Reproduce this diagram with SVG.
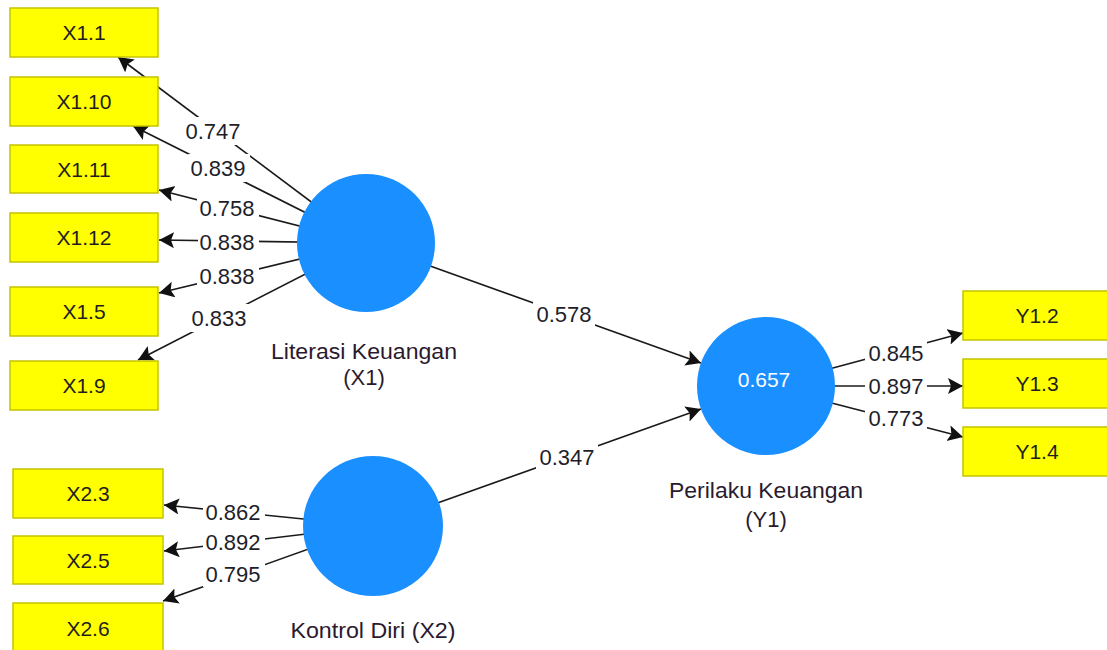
<svg xmlns="http://www.w3.org/2000/svg" width="1107" height="650" viewBox="0 0 1107 650">
<style>
.bg{fill:#ffffff}
.ind rect{fill:#ffff00;stroke:#c4c400;stroke-width:1.5}
.ind text{font-family:"Liberation Sans",Arial,sans-serif;font-size:21px;fill:#1e1e1e;text-anchor:middle}
.lat circle{fill:#1a8fff}
.name{font-family:"Liberation Sans",Arial,sans-serif;font-size:22px;fill:#2a1a2e;text-anchor:middle}
.val{font-family:"Liberation Sans",Arial,sans-serif;font-size:21px;fill:#ffffff;text-anchor:middle}
.conn line{stroke:#1a1a1a;stroke-width:1.6;marker-end:url(#ah)}
.lbl rect{fill:#ffffff}
.lbl text{font-family:"Liberation Sans",Arial,sans-serif;font-size:22px;fill:#1e1e2a;text-anchor:middle}
</style>
<defs>
<marker id="ah" markerUnits="userSpaceOnUse" markerWidth="18" markerHeight="18" refX="15" refY="8" orient="auto">
<path d="M0,0 L15,8 L0,16 L3,8 z" fill="#111"/>
</marker>
</defs>
<rect class="bg" x="0" y="0" width="1107" height="650"/>
<g id="connectors" class="conn">
<line x1="366" y1="243" x2="118" y2="57"/>
<line x1="366" y1="243" x2="133" y2="126"/>
<line x1="366" y1="243" x2="159" y2="190"/>
<line x1="366" y1="243" x2="159" y2="240"/>
<line x1="366" y1="243" x2="159" y2="293"/>
<line x1="366" y1="243" x2="138" y2="360"/>
<line x1="373" y1="526" x2="164" y2="505"/>
<line x1="373" y1="526" x2="164" y2="551"/>
<line x1="373" y1="526" x2="163" y2="601"/>
<line x1="366" y1="243" x2="701" y2="363"/>
<line x1="373" y1="526" x2="701" y2="409"/>
<line x1="766" y1="386" x2="963" y2="333"/>
<line x1="766" y1="386" x2="963" y2="386"/>
<line x1="766" y1="386" x2="963" y2="437"/>
</g>
<g id="connector-labels" class="lbl">
<rect x="183" y="117" width="62" height="28"/><text x="213" y="139">0.747</text>
<rect x="188" y="154" width="62" height="28"/><text x="218" y="176">0.839</text>
<rect x="197" y="194" width="62" height="28"/><text x="227" y="216">0.758</text>
<rect x="198" y="229" width="61" height="26"/><text x="227" y="250">0.838</text>
<rect x="197" y="262" width="62" height="28"/><text x="227" y="284">0.838</text>
<rect x="189" y="304" width="62" height="28"/><text x="219" y="326">0.833</text>
<rect x="203" y="499" width="62" height="26"/><text x="233" y="520">0.862</text>
<rect x="203" y="529" width="62" height="26"/><text x="233" y="550">0.892</text>
<rect x="203" y="561" width="62" height="26"/><text x="233" y="582">0.795</text>
<rect x="533" y="300" width="62" height="28"/><text x="564" y="322">0.578</text>
<rect x="536" y="443" width="62" height="28"/><text x="567" y="465">0.347</text>
<rect x="865" y="340" width="62" height="26"/><text x="896" y="361">0.845</text>
<rect x="865" y="373" width="62" height="26"/><text x="896" y="394">0.897</text>
<rect x="865" y="405" width="62" height="26"/><text x="896" y="426">0.773</text>
</g>
<g id="X1.1" class="ind"><rect x="10" y="8" width="148" height="49"/><text x="84" y="40">X1.1</text></g>
<g id="X1.10" class="ind"><rect x="10" y="77" width="148" height="49"/><text x="84" y="109">X1.10</text></g>
<g id="X1.11" class="ind"><rect x="10" y="145" width="148" height="48"/><text x="84" y="177">X1.11</text></g>
<g id="X1.12" class="ind"><rect x="10" y="213" width="148" height="49"/><text x="84" y="245">X1.12</text></g>
<g id="X1.5" class="ind"><rect x="10" y="287" width="148" height="49"/><text x="84" y="319">X1.5</text></g>
<g id="X1.9" class="ind"><rect x="10" y="361" width="148" height="49"/><text x="84" y="393">X1.9</text></g>
<g id="X2.3" class="ind"><rect x="13" y="469" width="150" height="49"/><text x="88" y="501">X2.3</text></g>
<g id="X2.5" class="ind"><rect x="13" y="536" width="150" height="48"/><text x="88" y="568">X2.5</text></g>
<g id="X2.6" class="ind"><rect x="13" y="603" width="150" height="60"/><text x="88" y="636">X2.6</text></g>
<g id="Y1.2" class="ind"><rect x="963" y="291" width="148" height="49"/><text x="1037" y="323">Y1.2</text></g>
<g id="Y1.3" class="ind"><rect x="963" y="359" width="148" height="49"/><text x="1037" y="391">Y1.3</text></g>
<g id="Y1.4" class="ind"><rect x="963" y="427" width="148" height="49"/><text x="1037" y="459">Y1.4</text></g>
<g id="X1" class="lat">
<circle cx="366" cy="243" r="69"/>
<text class="name" x="364" y="359" textLength="186" lengthAdjust="spacingAndGlyphs">Literasi Keuangan</text>
<text class="name" x="364" y="385">(X1)</text>
</g>
<g id="X2" class="lat">
<circle cx="373" cy="526" r="70"/>
<text class="name" x="373" y="638" textLength="165" lengthAdjust="spacingAndGlyphs">Kontrol Diri (X2)</text>
</g>
<g id="Y1" class="lat">
<circle cx="766" cy="386" r="69"/>
<text class="val" x="764" y="387">0.657</text>
<text class="name" x="766" y="498" textLength="194" lengthAdjust="spacingAndGlyphs">Perilaku Keuangan</text>
<text class="name" x="766" y="527">(Y1)</text>
</g>
</svg>
